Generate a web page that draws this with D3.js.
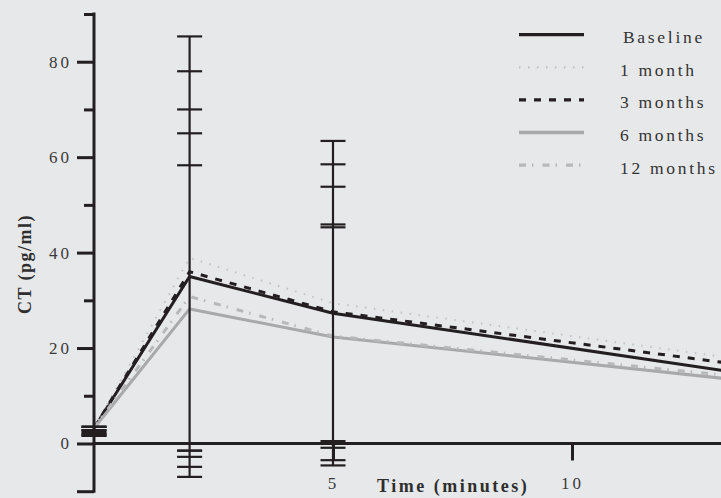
<!DOCTYPE html>
<html>
<head>
<meta charset="utf-8">
<script src="https://cdn.jsdelivr.net/npm/d3@7"></script>
<style>
  body { margin: 0; background: #e7e8ea; }
  svg { display: block; }
</style>
</head>
<body>
<div id="chart"></div>
<script>
// time points (minutes) - last point lies past the right edge of the picture
const times = [0, 2, 5, 15];
const seriesNames = ["Baseline", "1 month", "3 months", "6 months", "12 months"];

const baseline = [3.2, 35.0, 27.3, 12.6];
const month1 = [3.2, 38.9, 29.4, 15.6];
const month3 = [3.2, 36.0, 27.6, 14.6];
const month6 = [3.2, 28.2, 22.3, 11.7];
const month12 = [3.2, 30.8, 22.5, 12.5];

// error bar ends for the first three time points
const errTimes = [0, 2, 5];
const errLow = [
  [1.6, -2.8, -0.9],
  [2.0, -7.0, -4.6],
  [2.4, -4.9, -3.5],
  [1.6, -1.5, 0.5],
  [2.0, -1.5, 0.0],
];
const errHigh = [
  [3.5, 70.0, 53.8],
  [3.5, 85.3, 63.4],
  [3.5, 78.0, 58.5],
  [2.8, 58.3, 45.3],
  [2.8, 65.0, 45.9],
];

const yMajor = [-10, 0, 20, 40, 60, 80];
const yMinor = [10, 30, 50, 70, 90];
const xTicks = [5, 10];

const width = 721;
const height = 498;
const ink = "#231f20";
const serif = "'Liberation Serif', 'DejaVu Serif', serif";

const styles = [
  { color: ink, width: 3, dash: null },
  { color: "#c2c2c4", width: 2, dash: "1.5,7.5" },
  { color: ink, width: 3, dash: "7,8" },
  { color: "#a9a9ab", width: 3, dash: null },
  { color: "#b8b8ba", width: 3, dash: "7,6,1.5,9" },
];

const allSeries = [baseline, month1, month3, month6, month12];

const svg = d3
  .select("#chart")
  .append("svg")
  .attr("width", width)
  .attr("height", height)
  .style("background", "#e7e8ea");

const x = d3.scaleLinear().domain([0, 10]).range([94, 572]);
const y = d3.scaleLinear().domain([-10, 90]).range([491.2, 14]);

// lines
const line = d3
  .line()
  .x((d, i) => x(times[i]))
  .y((d) => y(d));

allSeries.forEach((vals, s) => {
  svg
    .append("path")
    .datum(vals)
    .attr("d", line)
    .attr("fill", "none")
    .attr("stroke", styles[s].color)
    .attr("stroke-width", styles[s].width)
    .attr("stroke-dasharray", styles[s].dash);
});

// error bars
const capHalf = 12.5;
errTimes.forEach((t, i) => {
  const lo = d3.min(errLow, (e) => e[i]);
  const hi = d3.max(errHigh, (e) => e[i]);
  svg
    .append("line")
    .attr("x1", x(t))
    .attr("x2", x(t))
    .attr("y1", y(lo))
    .attr("y2", y(hi))
    .attr("stroke", ink)
    .attr("stroke-width", 2.2);
  errLow.concat(errHigh).forEach((e) => {
    svg
      .append("line")
      .attr("x1", x(t) - capHalf)
      .attr("x2", x(t) + capHalf)
      .attr("y1", y(e[i]))
      .attr("y2", y(e[i]))
      .attr("stroke", ink)
      .attr("stroke-width", 2.2);
  });
});

// y axis
const yAxisMajor = d3
  .axisLeft(y)
  .tickValues(yMajor)
  .tickSize(17)
  .tickSizeOuter(0)
  .tickPadding(5)
  .tickFormat((d) => (d < 0 ? "" : d));

const gy = svg.append("g").attr("transform", `translate(${x(0)},0)`).call(yAxisMajor);
gy.select(".domain").remove();

const gyMinor = svg
  .append("g")
  .attr("transform", `translate(${x(0)},0)`)
  .call(d3.axisLeft(y).tickValues(yMinor).tickSize(10).tickFormat(""));
gyMinor.select(".domain").remove();

svg
  .append("line")
  .attr("x1", x(0))
  .attr("x2", x(0))
  .attr("y1", y(-10) + 1.5)
  .attr("y2", y(90) - 1.5)
  .attr("stroke", ink)
  .attr("stroke-width", 3);

// x axis
const gx = svg
  .append("g")
  .attr("transform", `translate(0,${y(0)})`)
  .call(d3.axisBottom(x).tickValues(xTicks).tickSize(17).tickPadding(16).tickSizeOuter(0));
gx.select(".domain").remove();

svg
  .append("line")
  .attr("x1", x(0))
  .attr("x2", width)
  .attr("y1", y(0))
  .attr("y2", y(0))
  .attr("stroke", ink)
  .attr("stroke-width", 3);

svg.selectAll(".tick line").attr("stroke", ink).attr("stroke-width", 3);
svg
  .selectAll(".tick text")
  .attr("fill", "#3a3a3a")
  .style("font-family", serif)
  .style("font-size", "17px")
  .style("letter-spacing", "3px");

// axis titles
svg
  .append("text")
  .attr("transform", "translate(31,264) rotate(-90)")
  .attr("text-anchor", "middle")
  .attr("fill", "#2e2e2e")
  .style("font-family", serif)
  .style("font-weight", "bold")
  .style("font-size", "18px")
  .style("letter-spacing", "1.5px")
  .text("CT (pg/ml)");

svg
  .append("text")
  .attr("x", 377)
  .attr("y", 492)
  .attr("fill", "#2e2e2e")
  .style("font-family", serif)
  .style("font-weight", "bold")
  .style("font-size", "18px")
  .style("letter-spacing", "2.5px")
  .text("Time (minutes)");

// legend
const legend = svg
  .selectAll(".legend")
  .data(seriesNames)
  .enter()
  .append("g")
  .attr("class", "legend")
  .attr("transform", (d, i) => `translate(0,${34.7 + i * 32.6})`);

legend
  .append("line")
  .attr("x1", 519)
  .attr("x2", 584)
  .attr("stroke", (d, i) => styles[i].color)
  .attr("stroke-width", (d, i) => styles[i].width + 0.3)
  .attr("stroke-dasharray", (d, i) => styles[i].dash);

legend
  .append("text")
  .attr("x", (d, i) => (i === 0 ? 623 : 620))
  .attr("y", 8.5)
  .attr("fill", "#333")
  .style("font-family", serif)
  .style("font-size", "17.5px")
  .style("letter-spacing", "2.7px")
  .text((d) => d);
</script>
</body>
</html>
